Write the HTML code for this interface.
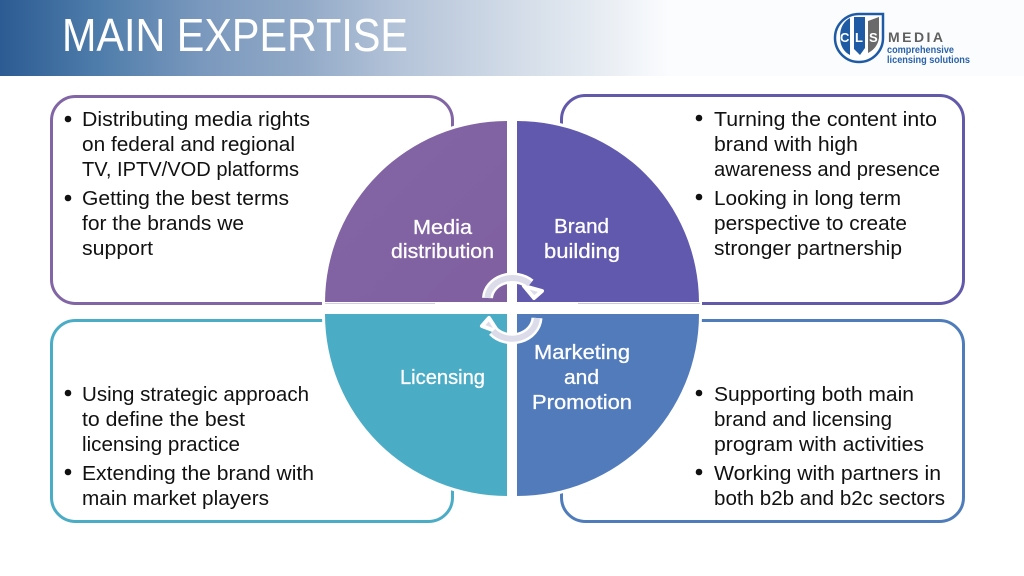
<!DOCTYPE html>
<html><head><meta charset="utf-8"><style>
html,body{margin:0;padding:0;background:#fff}
svg{display:block}
text{font-family:"Liberation Sans",sans-serif}
.t{font-size:20px;fill:#111}
.b{font-size:20px;fill:#fff;font-weight:400;stroke:#fff;stroke-width:.3}
</style></head><body>
<svg width="1024" height="576" viewBox="0 0 1024 576" xmlns="http://www.w3.org/2000/svg">
<defs>
<linearGradient id="h" x1="0" x2="670" y1="0" y2="0" gradientUnits="userSpaceOnUse">
<stop offset="0" stop-color="#2c5b93"/><stop offset=".15" stop-color="#4f7dab"/><stop offset=".3" stop-color="#7a98bd"/><stop offset=".45" stop-color="#91a9c7"/><stop offset=".6" stop-color="#b5c4d9"/><stop offset=".75" stop-color="#cfd9e6"/><stop offset=".9" stop-color="#e8edf3"/><stop offset="1" stop-color="#fbfcfe"/>
</linearGradient>
<linearGradient id="q1" x1="0" x2="1" y1="0" y2="1"><stop offset="0" stop-color="#8366a6"/><stop offset="1" stop-color="#7f5f9f"/></linearGradient>
</defs>
<rect width="1024" height="576" fill="#fff"/>
<rect x="660" y="0" width="364" height="76" fill="#fbfcfe"/>
<rect x="0" y="0" width="670" height="76" fill="url(#h)"/>
<text x="62" y="51" font-size="46" fill="#fff" textLength="346" lengthAdjust="spacingAndGlyphs">MAIN EXPERTISE</text>

<!-- logo -->
<path d="M883 14 V38 A24 24 0 1 1 859 14 Z" fill="#fff" stroke="#1f5ba5" stroke-width="2.5"/>
<path d="M850 18 V55 C844 52 840 46 840 37 C840 27 844 21 850 18Z" fill="#1f5ba5"/>
<path d="M854 17 H865 V48 L860 55 L854 49Z" fill="#1f5ba5"/>
<path d="M868 21 L879 17 V38 C878 45 874 50 868 53Z" fill="#6a6a6a"/>
<text x="840" y="42" font-size="13" font-weight="700" fill="#fff">C</text>
<text x="855" y="42" font-size="13" font-weight="700" fill="#fff">L</text>
<text x="869" y="42" font-size="13" font-weight="700" fill="#fff">S</text>
<text x="888" y="42" font-size="14" font-weight="700" fill="#5f5f5f" textLength="55" lengthAdjust="spacing">MEDIA</text>
<text x="887" y="53" font-size="10" font-weight="700" fill="#2a62a8" textLength="67" lengthAdjust="spacingAndGlyphs">comprehensive</text>
<text x="887" y="63" font-size="10" font-weight="700" fill="#2a62a8" textLength="83" lengthAdjust="spacingAndGlyphs">licensing solutions</text>

<!-- boxes -->
<rect x="51.5" y="96.5" width="401" height="207" rx="24" fill="#fff" stroke="#8165a5" stroke-width="3"/>
<rect x="561.5" y="95.5" width="402" height="208" rx="24" fill="#fff" stroke="#6259ab" stroke-width="3"/>
<rect x="51.5" y="320.5" width="401" height="201" rx="24" fill="#fff" stroke="#4bacc6" stroke-width="3"/>
<rect x="561.5" y="320.5" width="402" height="201" rx="24" fill="#fff" stroke="#4f7cba" stroke-width="3"/>

<!-- quadrants -->
<g fill="#fff" stroke="#fff" stroke-width="6">
<path d="M507 302 V121 A182 182 0 0 0 325 302Z"/>
<path d="M517 302 V121 A182 182 0 0 1 699 302Z"/>
<path d="M507 314 V496 A182 182 0 0 1 325 314Z"/>
<path d="M517 314 V496 A182 182 0 0 0 699 314Z"/>
</g>
<path d="M507 302 V121 A182 182 0 0 0 325 302Z" fill="url(#q1)"/>
<path d="M517 302 V121 A182 182 0 0 1 699 302Z" fill="#6059ad"/>
<path d="M507 314 V496 A182 182 0 0 1 325 314Z" fill="#4bacc6"/>
<path d="M517 314 V496 A182 182 0 0 0 699 314Z" fill="#517bba"/>
<rect x="325" y="303" width="110" height="1" fill="#d3cde4"/>
<rect x="578" y="303" width="122" height="1" fill="#c9c6e6"/>

<!-- cycle arrows -->
<g fill="none">
<path d="M487.5 298 A25 21 0 0 1 530 284" stroke="#fff" stroke-width="11"/>
<path d="M537 318 A25 22 0 0 1 493 331" stroke="#fff" stroke-width="11"/>
</g>
<path d="M524 286 L542 291 L534 298Z" fill="#dcdbe9" stroke="#fff" stroke-width="4" stroke-linejoin="round"/>
<path d="M489 318 L482 326 L498 332Z" fill="#dcdbe9" stroke="#fff" stroke-width="4" stroke-linejoin="round"/>
<g fill="none">
<path d="M487.5 298 A25 21 0 0 1 530 284" stroke="#dcdbe9" stroke-width="6"/>
<path d="M537 318 A25 22 0 0 1 493 331" stroke="#dcdbe9" stroke-width="6"/>
</g>

<!-- labels -->
<g>
<text class="b" x="413" y="234" textLength="59" lengthAdjust="spacingAndGlyphs">Media</text>
<text class="b" x="391" y="258" textLength="103" lengthAdjust="spacingAndGlyphs">distribution</text>
<text class="b" x="554" y="233" textLength="55" lengthAdjust="spacingAndGlyphs">Brand</text>
<text class="b" x="544" y="258" textLength="76" lengthAdjust="spacingAndGlyphs">building</text>
<text class="b" x="400" y="384" textLength="85" lengthAdjust="spacingAndGlyphs">Licensing</text>
<text class="b" x="534" y="359" textLength="96" lengthAdjust="spacingAndGlyphs">Marketing</text>
<text class="b" x="564" y="384" textLength="35" lengthAdjust="spacingAndGlyphs">and</text>
<text class="b" x="532" y="409" textLength="100" lengthAdjust="spacingAndGlyphs">Promotion</text>
</g>

<!-- bullets -->
<g fill="#111">
<circle cx="68" cy="119" r="3.3"/><circle cx="68" cy="198" r="3.3"/>
<circle cx="699" cy="118" r="3.3"/><circle cx="699" cy="197" r="3.3"/>
<circle cx="68" cy="393" r="3.3"/><circle cx="68" cy="472" r="3.3"/>
<circle cx="699" cy="393" r="3.3"/><circle cx="699" cy="472" r="3.3"/>
</g>

<g>
<text class="t" x="82" y="126" textLength="228" lengthAdjust="spacingAndGlyphs">Distributing media rights</text>
<text class="t" x="82" y="151" textLength="213" lengthAdjust="spacingAndGlyphs">on federal and regional</text>
<text class="t" x="82" y="176" textLength="217" lengthAdjust="spacingAndGlyphs">TV, IPTV/VOD platforms</text>
<text class="t" x="82" y="205" textLength="207" lengthAdjust="spacingAndGlyphs">Getting the best terms</text>
<text class="t" x="82" y="230" textLength="162" lengthAdjust="spacingAndGlyphs">for the brands we</text>
<text class="t" x="82" y="255" textLength="71" lengthAdjust="spacingAndGlyphs">support</text>

<text class="t" x="714" y="126" textLength="223" lengthAdjust="spacingAndGlyphs">Turning the content into</text>
<text class="t" x="714" y="151" textLength="144" lengthAdjust="spacingAndGlyphs">brand with high</text>
<text class="t" x="714" y="176" textLength="226" lengthAdjust="spacingAndGlyphs">awareness and presence</text>
<text class="t" x="714" y="205" textLength="187" lengthAdjust="spacingAndGlyphs">Looking in long term</text>
<text class="t" x="714" y="230" textLength="193" lengthAdjust="spacingAndGlyphs">perspective to create</text>
<text class="t" x="714" y="255" textLength="188" lengthAdjust="spacingAndGlyphs">stronger partnership</text>

<text class="t" x="82" y="401" textLength="227" lengthAdjust="spacingAndGlyphs">Using strategic approach</text>
<text class="t" x="82" y="426" textLength="163" lengthAdjust="spacingAndGlyphs">to define the best</text>
<text class="t" x="82" y="451" textLength="158" lengthAdjust="spacingAndGlyphs">licensing practice</text>
<text class="t" x="82" y="480" textLength="232" lengthAdjust="spacingAndGlyphs">Extending the brand with</text>
<text class="t" x="82" y="505" textLength="187" lengthAdjust="spacingAndGlyphs">main market players</text>

<text class="t" x="714" y="401" textLength="200" lengthAdjust="spacingAndGlyphs">Supporting both main</text>
<text class="t" x="714" y="426" textLength="178" lengthAdjust="spacingAndGlyphs">brand and licensing</text>
<text class="t" x="714" y="451" textLength="210" lengthAdjust="spacingAndGlyphs">program with activities</text>
<text class="t" x="714" y="480" textLength="227" lengthAdjust="spacingAndGlyphs">Working with partners in</text>
<text class="t" x="714" y="505" textLength="231" lengthAdjust="spacingAndGlyphs">both b2b and b2c sectors</text>
</g>
</svg>
</body></html>
